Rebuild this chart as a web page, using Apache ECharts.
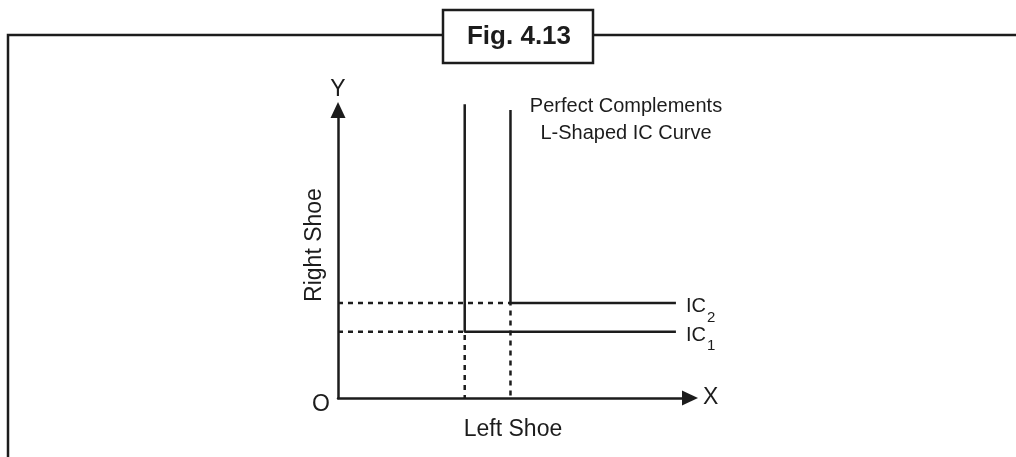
<!DOCTYPE html>
<html>
<head>
<meta charset="utf-8">
<script src="https://cdn.jsdelivr.net/npm/echarts@6/dist/echarts.min.js"></script>
<style>
  html, body { margin: 0; padding: 0; background: #fff; }
  #chart { width: 1016px; height: 457px; }
</style>
</head>
<body>
<div id="chart"></div>
<script>
// axis ranges (arbitrary units, no ticks shown)
const xRange = [0, 100];
const yRange = [0, 100];

// L-shaped indifference curves: top of vertical arm, corner, end of horizontal arm
const ic1Points = [[36, 102], [36, 23], [96, 23]];
const ic2Points = [[49, 100], [49, 33], [96, 33]];

// dotted guides from each corner to the axes
const ic1Guide = [[0, 23], [36, 23], [36, 0]];
const ic2Guide = [[0, 33], [49, 33], [49, 0]];

const curveNames = ['IC1', 'IC2'];
const subscripts = ['1', '2'];

const ink = '#1c1c1c';
const font = '"Liberation Sans", Arial, sans-serif';

const chart = echarts.init(document.getElementById('chart'));

function curve(name, data, sub) {
  return {
    name: name,
    type: 'line',
    data: data,
    symbol: 'none',
    clip: false,
    z: 3,
    lineStyle: { color: ink, width: 2.5 },
    endLabel: {
      show: true,
      distance: 10,
      offset: [0, 4],
      formatter: '{m|IC}{s|' + sub + '}',
      rich: {
        m: { fontSize: 20, fontFamily: font, color: ink, lineHeight: 20, verticalAlign: 'top' },
        s: { fontSize: 15, fontFamily: font, color: ink, lineHeight: 15, verticalAlign: 'top', padding: [13, 0, 0, 1] }
      }
    }
  };
}

function guide(data) {
  return {
    type: 'line',
    data: data,
    symbol: 'none',
    clip: false,
    z: 2,
    lineStyle: { color: ink, width: 2.5, type: [5, 5] }
  };
}

const axisLine = {
  show: true,
  lineStyle: { color: ink, width: 2.5 },
  symbol: ['none', 'triangle'],
  symbolSize: [15, 16]
};

const option = {
  animation: false,
  grid: { left: 338, right: 326, top: 110, bottom: 59 },
  xAxis: {
    type: 'value',
    min: xRange[0],
    max: xRange[1],
    name: 'X',
    nameGap: 13,
    nameTextStyle: { fontSize: 23, fontFamily: font, color: ink, verticalAlign: 'middle' },
    axisLine: axisLine,
    axisTick: { show: false },
    axisLabel: { show: false },
    splitLine: { show: false }
  },
  yAxis: {
    type: 'value',
    min: yRange[0],
    max: yRange[1],
    name: 'Y',
    nameGap: 9,
    nameTextStyle: { fontSize: 23, fontFamily: font, color: ink },
    axisLine: axisLine,
    axisTick: { show: false },
    axisLabel: { show: false },
    splitLine: { show: false }
  },
  series: [
    guide(ic1Guide),
    guide(ic2Guide),
    curve(curveNames[0], ic1Points, subscripts[0]),
    curve(curveNames[1], ic2Points, subscripts[1])
  ],
  graphic: [
    // frame
    {
      type: 'polyline',
      shape: { points: [[8, 457], [8, 35], [1016, 35]] },
      style: { stroke: ink, lineWidth: 2.5, fill: null }
    },
    {
      type: 'rect',
      shape: { x: 443, y: 10, width: 150, height: 53 },
      style: { fill: '#fff', stroke: ink, lineWidth: 2.5 }
    },
    {
      type: 'text',
      x: 519, y: 37,
      style: { text: 'Fig. 4.13', font: 'bold 26px ' + font, fill: ink, align: 'center', verticalAlign: 'middle' }
    },
    {
      type: 'text',
      x: 626, y: 120,
      style: {
        text: 'Perfect Complements\nL-Shaped IC Curve',
        font: '20px ' + font, lineHeight: 27, fill: ink, align: 'center', verticalAlign: 'middle'
      }
    },
    {
      type: 'text',
      x: 321, y: 405,
      style: { text: 'O', font: '23px ' + font, fill: ink, align: 'center', verticalAlign: 'middle' }
    },
    {
      type: 'text',
      x: 513, y: 430,
      style: { text: 'Left Shoe', font: '23px ' + font, fill: ink, align: 'center', verticalAlign: 'middle' }
    },
    {
      type: 'text',
      x: 315, y: 245,
      rotation: Math.PI / 2,
      style: { text: 'Right Shoe', font: '23px ' + font, fill: ink, align: 'center', verticalAlign: 'middle' }
    }
  ]
};

chart.setOption(option);
</script>
</body>
</html>
